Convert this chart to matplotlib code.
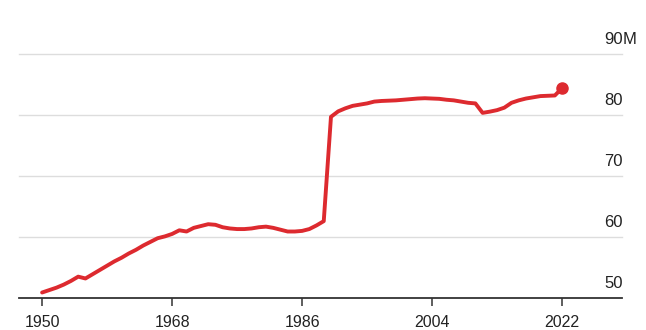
import matplotlib.pyplot as plt
from matplotlib import transforms

# population, millions (West Germany to 1989, unified Germany from 1990)
years = list(range(1950, 2023))
population = [
    50.9, 51.3, 51.7, 52.2, 52.8, 53.5, 53.2, 53.9, 54.6, 55.3,   # 1950-59
    56.0, 56.6, 57.3, 57.9, 58.6, 59.2, 59.8, 60.1, 60.5, 61.1,   # 1960-69
    60.9, 61.5, 61.8, 62.1, 62.0, 61.6, 61.4, 61.3, 61.3, 61.4,   # 1970-79
    61.6, 61.7, 61.5, 61.2, 60.9, 60.9, 61.0, 61.3, 61.9, 62.6,   # 1980-89
    79.7, 80.6, 81.1, 81.5, 81.7, 81.9, 82.2, 82.3, 82.35, 82.4,  # 1990-99
    82.5, 82.6, 82.7, 82.75, 82.7, 82.65, 82.5, 82.4, 82.2, 82.0, # 2000-09
    81.9, 80.35, 80.55, 80.8, 81.2, 82.0, 82.4, 82.7, 82.9, 83.1, # 2010-19
    83.15, 83.2, 84.4,                                            # 2020-22
]
x_ticks = [1950, 1968, 1986, 2004, 2022]
y_ticks = [50, 60, 70, 80, 90]
y_labels = ["50", "60", "70", "80", "90"]

red = "#dd2a2f"
plt.rcParams["font.family"] = ["Liberation Sans", "DejaVu Sans"]

fig = plt.figure(figsize=(6.46, 3.30), dpi=100)
ax = fig.add_axes([19 / 646, 1 - 298 / 330, 603 / 646, 244 / 330])

ax.plot(years, population, color=red, lw=2.8, solid_capstyle="round",
        solid_joinstyle="round", zorder=3)
ax.plot(years[-1], population[-1], "o", color=red, ms=8, zorder=4)

ax.set_xlim(1946.8, 2030.3)
ax.set_ylim(50, 90)

# gridlines (skip the baseline, drawn as spine)
for v in y_ticks[1:]:
    ax.axhline(v, color="#dddddd", lw=1, zorder=1, clip_on=False)

for s in ["top", "right", "left"]:
    ax.spines[s].set_visible(False)
ax.spines["bottom"].set_color("#333333")
ax.spines["bottom"].set_linewidth(1.3)

ax.set_yticks([])
ax.set_xticks(x_ticks)
ax.tick_params(axis="x", length=6, width=1.1, color="#333333", pad=6,
               labelsize=11.5, labelcolor="#222222")

# right-hand value labels sitting above their gridlines
trans = transforms.blended_transform_factory(ax.transAxes, ax.transData)
for v, lab in zip(y_ticks, y_labels):
    t = transforms.offset_copy(trans, fig=fig, x=0.3, y=7.5, units="points")
    ax.text(1.0, v, lab, transform=t, ha="right", va="baseline",
            fontsize=12, color="#222222")
    if v == 90:
        ax.text(1.0, v, "M", transform=t, ha="left", va="baseline",
                fontsize=12, color="#222222")

fig.savefig("out.png", dpi=100)
